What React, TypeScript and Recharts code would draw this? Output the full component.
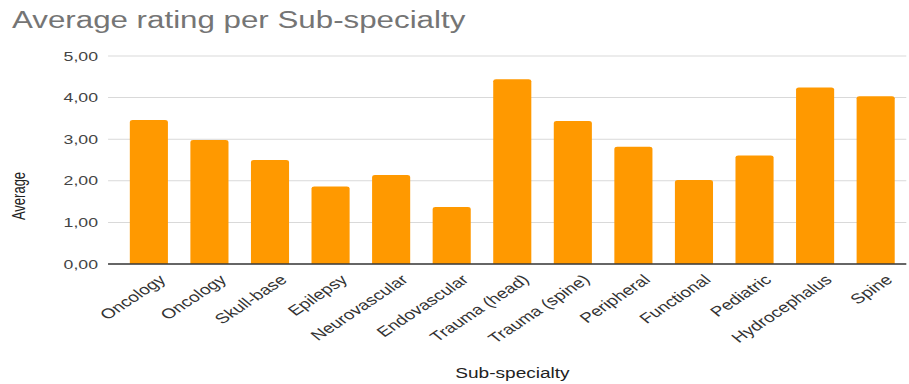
import { Bar, BarChart, CartesianGrid, XAxis, YAxis } from "recharts";

const subspecialties = [
  "Oncology",
  "Oncology",
  "Skull-base",
  "Epilepsy",
  "Neurovascular",
  "Endovascular",
  "Trauma (head)",
  "Trauma (spine)",
  "Peripheral",
  "Functional",
  "Pediatric",
  "Hydrocephalus",
  "Spine",
];

const averages = [3.46, 2.98, 2.5, 1.86, 2.14, 1.37, 4.44, 3.44, 2.82, 2.02, 2.61, 4.24, 4.03];

const ratingTicks = [0, 1, 2, 3, 4, 5];

const rows = subspecialties.map((name, i) => ({ name, average: averages[i] }));

// the chart is laid out narrow and then stretched sideways
const STRETCH = 1.3608;
const W = 668;
const H = 384;
const FONT = '"Liberation Sans", Arial, sans-serif';

const formatRating = (v: number) => v.toFixed(2).replace(".", ",");

function CategoryTick({ x, y, payload }: any) {
  return (
    <g transform={`translate(${x + 13},${y + 17}) rotate(-42)`}>
      <text x={0} y={0} textAnchor="end" fontSize={14} fontFamily={FONT} fill="#333">
        {payload.value}
      </text>
    </g>
  );
}

function RatingTick({ x, y, payload }: any) {
  return (
    <text x={x} y={y} dy="0.355em" textAnchor="end" fontSize={13} fontFamily={FONT} fill="#444">
      {formatRating(payload.value)}
    </text>
  );
}

export default function App() {
  return (
    <div style={{ position: "absolute", left: 0, top: 0, width: 909, height: H, overflow: "hidden", background: "#fff" }}>
      <div style={{ position: "relative", width: W, height: H, transform: `scaleX(${STRETCH})`, transformOrigin: "0 0" }}>
        <BarChart width={W} height={H} data={rows} margin={{ top: 56, right: 2, bottom: 0, left: 0 }}>
          <CartesianGrid horizontal vertical={false} stroke="#d9d9d9" />
          <XAxis
            dataKey="name"
            height={120}
            padding={{ left: 8, right: 0 }}
            interval={0}
            tickLine={false}
            tickSize={0}
            tickMargin={0}
            axisLine={{ stroke: "#3a3a3a", strokeWidth: 1.5 }}
            tick={<CategoryTick />}
          />
          <YAxis
            width={79.4}
            domain={[0, 5]}
            ticks={ratingTicks}
            axisLine={false}
            tickLine={false}
            tickSize={0}
            tickMargin={7.4}
            tick={<RatingTick />}
          />
          <Bar dataKey="average" fill="#ff9900" barSize={28} radius={[2, 2, 0, 0]} isAnimationActive={false} />
        </BarChart>
        <svg width={W} height={H} style={{ position: "absolute", left: 0, top: 0, pointerEvents: "none" }}>
          <text x={8.8} y={28.5} fontSize={23} fontFamily={FONT} fill="#757575">
            Average rating per Sub-specialty
          </text>
          <text
            transform="translate(18.5,196) rotate(-90)"
            textAnchor="middle"
            fontSize={13}
            fontFamily={FONT}
            fill="#222"
          >
            Average
          </text>
          <text x={376.6} y={378} textAnchor="middle" fontSize={14} fontFamily={FONT} fill="#222">
            Sub-specialty
          </text>
        </svg>
      </div>
    </div>
  );
}
